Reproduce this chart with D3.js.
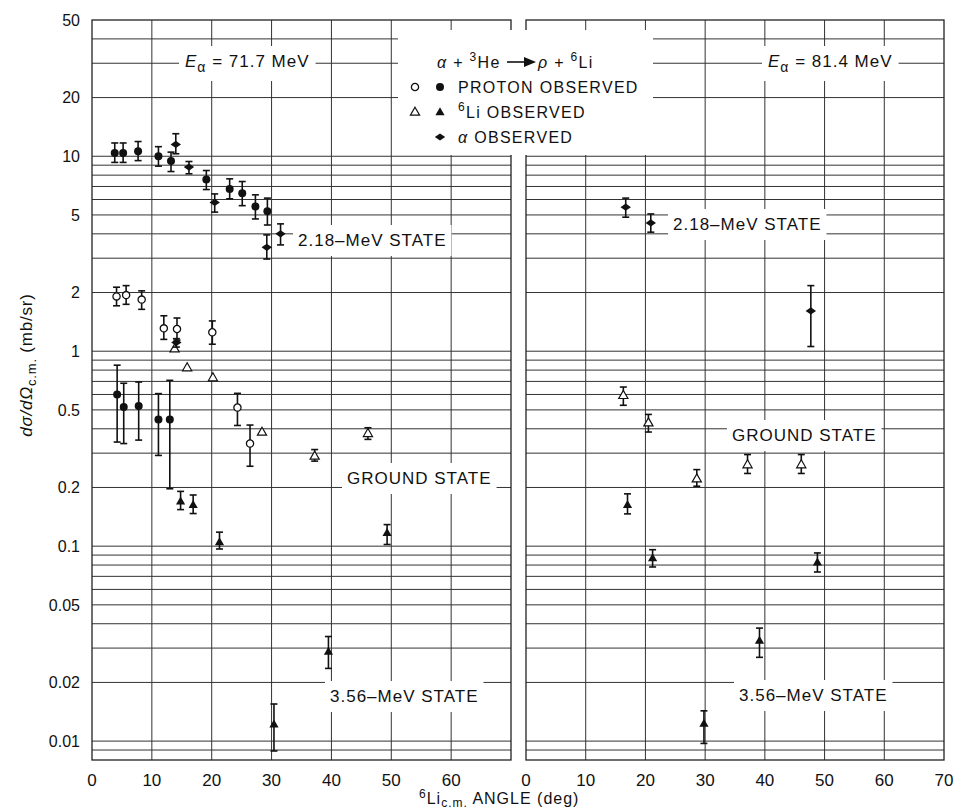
<!DOCTYPE html>
<html lang="en">
<head>
<meta charset="UTF-8">
<title>alpha + 3He -> p + 6Li cross sections</title>
<script src="https://d3js.org/d3.v7.min.js"></script>
<style>
  body { margin: 0; background: #fff; }
  svg text { font-family: "Liberation Sans", Arial, sans-serif; fill: #111; }
  .tick-label { font-size: 16px; }
  .note { font-size: 17px; letter-spacing: 1px; }
  .legend { font-size: 16px; letter-spacing: 1.3px; }
</style>
</head>
<body>
<script>
// each point: [angle (deg), dsigma/dOmega, error low, error high]
const leftProtonFilled = [
  [3.8, 10.4, 9.3, 11.7], [5.2, 10.4, 9.3, 11.7], [7.7, 10.6, 9.5, 11.9],
  [11.1, 10.0, 8.9, 11.2], [13.2, 9.45, 8.35, 10.5], [19.1, 7.6, 6.75, 8.45],
  [23.0, 6.8, 6.05, 7.66], [25.1, 6.47, 5.58, 7.42], [27.3, 5.52, 4.77, 6.34],
  [29.3, 5.23, 4.44, 6.10],
  [4.2, 0.60, 0.342, 0.848], [5.3, 0.517, 0.336, 0.685], [7.8, 0.523, 0.35, 0.695],
  [11.1, 0.447, 0.292, 0.606], [13.0, 0.447, 0.197, 0.709]
];
const leftProtonOpen = [
  [4.1, 1.91, 1.71, 2.13], [5.7, 1.94, 1.74, 2.17], [8.3, 1.84, 1.64, 2.04],
  [12.0, 1.31, 1.15, 1.52], [14.2, 1.30, 1.14, 1.48], [20.1, 1.25, 1.086, 1.43],
  [24.3, 0.514, 0.416, 0.608], [26.4, 0.336, 0.257, 0.418]
];
const leftLiOpen = [
  [13.8, 1.03, null, null], [15.9, 0.824, null, null], [20.2, 0.732, null, null],
  [28.4, 0.385, null, null], [37.2, 0.290, 0.273, 0.313], [46.1, 0.379, 0.353, 0.405]
];
const leftLiFilled = [
  [14.8, 0.170, 0.154, 0.191], [16.9, 0.163, 0.147, 0.183], [21.3, 0.105, 0.0967, 0.118],
  [30.4, 0.0122, 0.0089, 0.0155], [39.5, 0.0288, 0.0236, 0.0344], [49.3, 0.117, 0.102, 0.129]
];
const leftAlpha = [
  [14.0, 11.5, 10.3, 13.05], [16.2, 8.8, 8.13, 9.40], [20.5, 5.8, 5.17, 6.41],
  [29.2, 3.41, 2.97, 3.95], [31.5, 4.0, 3.51, 4.50], [14.1, 1.11, 1.05, 1.16]
];
const rightAlpha = [
  [16.7, 5.48, 4.87, 6.10], [20.9, 4.55, 4.08, 5.06], [47.7, 1.61, 1.057, 2.17]
];
const rightLiOpen = [
  [16.3, 0.594, 0.528, 0.655], [20.5, 0.430, 0.385, 0.474], [28.6, 0.222, 0.203, 0.247],
  [37.1, 0.262, 0.236, 0.295], [46.1, 0.262, 0.236, 0.295]
];
const rightLiFilled = [
  [17.0, 0.163, 0.1464, 0.1855], [21.2, 0.087, 0.0782, 0.0959], [29.8, 0.0123, 0.00973, 0.0143],
  [39.1, 0.0328, 0.0269, 0.038], [48.8, 0.0826, 0.0737, 0.0923]
];

const yTickValues = [50, 20, 10, 5, 2, 1, 0.5, 0.2, 0.1, 0.05, 0.02, 0.01];
const yTickText = ["50", "20", "10", "5", "2", "1", "0.5", "0.2", "0.1", "0.05", "0.02", "0.01"];
const xTicksLeft = [0, 10, 20, 30, 40, 50, 60];
const xTicksRight = [0, 10, 20, 30, 40, 50, 60, 70];
const energies = ["71.7", "81.4"];
const stateNames = ["2.18–MeV STATE", "GROUND STATE", "3.56–MeV STATE"];

const width = 959, height = 812;
const plotTop = 20, plotBottom = 760;

const svg = d3.select("body").append("svg")
  .attr("width", width).attr("height", height)
  .attr("viewBox", [0, 0, width, height]);

const y = d3.scaleLog().domain([0.008, 50]).range([plotBottom, plotTop]);
const xLeft = d3.scaleLinear().domain([0, 70]).range([92, 511]);
const xRight = d3.scaleLinear().domain([0, 70]).range([526, 944]);

// horizontal grid values: 1..9 x 10^k inside the domain
const gridY = [];
for (let k = -3; k <= 1; k++) {
  for (let m = 1; m <= 9; m++) {
    const v = m * Math.pow(10, k);
    if (v > 0.0081 && v < 49.9) gridY.push(+v.toPrecision(3));
  }
}

function drawPanel(x) {
  const g = svg.append("g");
  const [x0, x1] = x.range();
  g.selectAll("line.h").data(gridY).join("line")
    .attr("x1", x0).attr("x2", x1)
    .attr("y1", d => y(d)).attr("y2", d => y(d))
    .attr("stroke", "#333").attr("stroke-width", 1);
  g.selectAll("line.v").data(d3.range(10, 70, 10)).join("line")
    .attr("x1", d => x(d)).attr("x2", d => x(d))
    .attr("y1", plotTop).attr("y2", plotBottom)
    .attr("stroke", "#333").attr("stroke-width", 1);
  g.append("rect")
    .attr("x", x0).attr("y", plotTop)
    .attr("width", x1 - x0).attr("height", plotBottom - plotTop)
    .attr("fill", "none").attr("stroke", "#222").attr("stroke-width", 1.3);
}
drawPanel(xLeft);
drawPanel(xRight);

// y tick labels
svg.append("g").selectAll("text").data(yTickValues).join("text")
  .attr("class", "tick-label")
  .attr("x", 80).attr("y", d => y(d)).attr("dy", "0.36em")
  .attr("text-anchor", "end")
  .text((d, i) => yTickText[i]);

// x tick labels
[[xLeft, xTicksLeft], [xRight, xTicksRight]].forEach(([x, ticks]) => {
  svg.append("g").selectAll("text").data(ticks).join("text")
    .attr("class", "tick-label")
    .style("font-size", "17px")
    .attr("x", d => x(d)).attr("y", 786)
    .attr("text-anchor", "middle")
    .text(d => d);
});

// label with white box that breaks the grid
function label(x0, yb, build, cls, padX = 6, padY = 5) {
  const g = svg.append("g");
  const rect = g.append("rect").attr("fill", "#fff");
  const t = g.append("text").attr("class", cls).attr("x", x0).attr("y", yb);
  build(t);
  const b = t.node().getBBox();
  rect.attr("x", b.x - padX).attr("y", b.y - padY)
    .attr("width", b.width + 2 * padX).attr("height", b.height + 2 * padY);
  return g;
}

function energyLabel(t, e) {
  t.append("tspan").style("font-style", "italic").text("E");
  t.append("tspan").attr("dy", 5).style("font-size", "14px").text("α");
  t.append("tspan").attr("dy", -5).text(" = " + e + " MeV");
}

label(185, 67, t => energyLabel(t, energies[0]), "note", 6, 6);
label(768, 67, t => energyLabel(t, energies[1]), "note", 6, 6);

label(298, 246, t => t.text(stateNames[0]), "note", 5, 6);
label(673, 230, t => t.text(stateNames[0]), "note", 5, 6);
label(347, 484, t => t.text(stateNames[1]), "note", 5, 6);
label(732, 441, t => t.text(stateNames[1]), "note", 5, 6);
label(330, 702, t => t.text(stateNames[2]), "note", 5, 6);
label(739, 701, t => t.text(stateNames[2]), "note", 5, 6);

// markers
const tri = "M0,-4.8L4.6,3.2L-4.6,3.2Z";
const dia = "M-5.2,0L0,-3.6L5.2,0L0,3.6Z";
function marker(sel, kind) {
  if (kind === "circleOpen") return sel.append("circle").attr("r", 3.6).attr("fill", "#fff").attr("stroke", "#111").attr("stroke-width", 1.3);
  if (kind === "circleFilled") return sel.append("circle").attr("r", 4).attr("fill", "#111");
  if (kind === "triOpen") return sel.append("path").attr("d", tri).attr("fill", "#fff").attr("stroke", "#111").attr("stroke-width", 1.2);
  if (kind === "triFilled") return sel.append("path").attr("d", tri).attr("fill", "#111");
  return sel.append("path").attr("d", dia).attr("fill", "#111");
}

function drawSeries(data, x, kind) {
  const g = svg.append("g");
  const pts = g.selectAll("g").data(data).join("g");
  const withErr = pts.filter(d => d[2] != null);
  withErr.append("line")
    .attr("x1", d => x(d[0])).attr("x2", d => x(d[0]))
    .attr("y1", d => y(d[2])).attr("y2", d => y(d[3]))
    .attr("stroke", "#111").attr("stroke-width", 1.6);
  [2, 3].forEach(j => {
    withErr.append("line")
      .attr("x1", d => x(d[0]) - 3.5).attr("x2", d => x(d[0]) + 3.5)
      .attr("y1", d => y(d[j])).attr("y2", d => y(d[j]))
      .attr("stroke", "#111").attr("stroke-width", 1.6);
  });
  const m = pts.append("g").attr("transform", d => `translate(${x(d[0])},${y(d[1])})`);
  marker(m, kind);
}

drawSeries(leftProtonFilled, xLeft, "circleFilled");
drawSeries(leftProtonOpen, xLeft, "circleOpen");
drawSeries(leftLiOpen, xLeft, "triOpen");
drawSeries(leftLiFilled, xLeft, "triFilled");
drawSeries(leftAlpha, xLeft, "diamond");
drawSeries(rightAlpha, xRight, "diamond");
drawSeries(rightLiOpen, xRight, "triOpen");
drawSeries(rightLiFilled, xRight, "triFilled");

// legend
const lg = svg.append("g");
lg.append("rect").attr("x", 398).attr("y", 30).attr("width", 255).attr("height", 125).attr("fill", "#fff");
const r1 = lg.append("text").attr("class", "legend").attr("x", 437).attr("y", 68);
r1.append("tspan").style("font-style", "italic").text("α");
r1.append("tspan").text(" + ");
r1.append("tspan").attr("dy", -7).style("font-size", "12px").text("3");
r1.append("tspan").attr("dy", 7).text("He");
lg.append("line").attr("x1", 507).attr("x2", 527).attr("y1", 62).attr("y2", 62).attr("stroke", "#111").attr("stroke-width", 1.6);
lg.append("path").attr("d", "M524,57L536,62L524,67Z").attr("fill", "#111");
const r1b = lg.append("text").attr("class", "legend").attr("x", 538).attr("y", 68);
r1b.append("tspan").style("font-style", "italic").text("ρ");
r1b.append("tspan").text(" + ");
r1b.append("tspan").attr("dy", -7).style("font-size", "12px").text("6");
r1b.append("tspan").attr("dy", 7).text("Li");

const legRows = [
  { y: 87, kinds: ["circleOpen", "circleFilled"], sup: null, text: "PROTON OBSERVED" },
  { y: 112, kinds: ["triOpen", "triFilled"], sup: "6", text: "Li OBSERVED" },
  { y: 137, kinds: [null, "diamond"], sup: null, text: "α OBSERVED" }
];
legRows.forEach(r => {
  r.kinds.forEach((k, i) => {
    if (!k) return;
    const m = lg.append("g").attr("transform", `translate(${415 + i * 25},${r.y})`);
    marker(m, k);
  });
  const t = lg.append("text").attr("class", "legend").attr("x", 458).attr("y", r.y + 6);
  if (r.sup) {
    t.append("tspan").attr("dy", -7).style("font-size", "12px").text(r.sup);
    t.append("tspan").attr("dy", 7).text(r.text);
  } else if (r.text.startsWith("α")) {
    t.append("tspan").style("font-style", "italic").text("α");
    t.append("tspan").text(r.text.slice(1));
  } else {
    t.text(r.text);
  }
});

// axis titles
const yt = svg.append("text")
  .attr("transform", "translate(32,365) rotate(-90)")
  .attr("text-anchor", "middle")
  .style("font-size", "17px").style("letter-spacing", "0.8px");
yt.append("tspan").style("font-style", "italic").text("dσ/dΩ");
yt.append("tspan").attr("dy", 4).style("font-size", "13px").text("c.m.");
yt.append("tspan").attr("dy", -4).text("  (mb/sr)");

const xt = svg.append("text").attr("x", 419).attr("y", 804)
  .style("font-size", "16px").style("letter-spacing", "1px");
xt.append("tspan").attr("dy", -6).style("font-size", "12px").text("6");
xt.append("tspan").attr("dy", 6).text("Li");
xt.append("tspan").attr("dy", 3).style("font-size", "12px").text("c.m.");
xt.append("tspan").attr("dy", -3).text(" ANGLE  (deg)");
</script>
</body>
</html>
